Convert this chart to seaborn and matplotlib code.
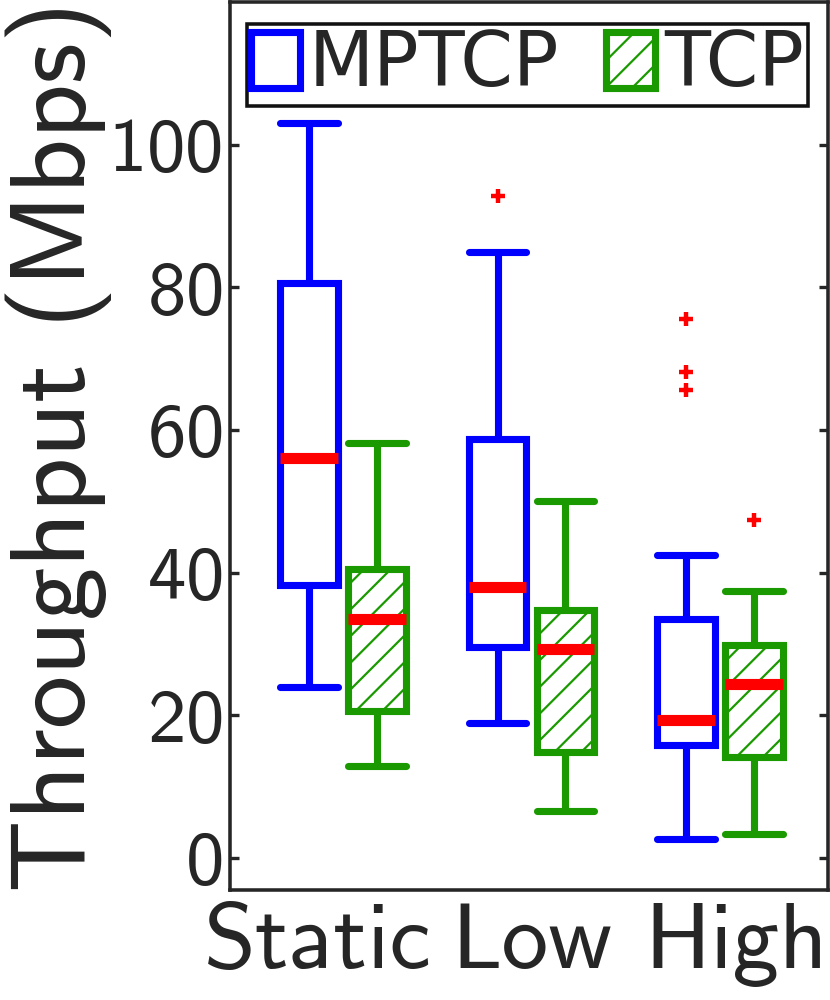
import numpy as np
import pandas as pd
import matplotlib
matplotlib.use("Agg")
import matplotlib.pyplot as plt
import matplotlib.transforms as mtransforms
import seaborn as sns

# categories
conditions = ["Static", "Low", "High"]
protocols = ["MPTCP", "TCP"]

# box stats: [low whisker, q1, median, q3, high whisker]
mptcp_static = [24.0, 38.2, 56.1, 80.6, 103.1]
mptcp_low = [18.9, 29.6, 38.0, 58.7, 85.0]
mptcp_high = [2.6, 15.8, 19.3, 33.5, 42.4]
tcp_static = [12.9, 20.6, 33.5, 40.5, 58.2]
tcp_low = [6.6, 14.9, 29.3, 34.8, 50.1]
tcp_high = [3.4, 14.2, 24.4, 29.9, 37.4]

# outliers (red +)
mptcp_static_out = []
mptcp_low_out = [92.8]
mptcp_high_out = [75.5, 68.1, 65.6]
tcp_static_out = []
tcp_low_out = []
tcp_high_out = [47.4]

yticks = [0, 20, 40, 60, 80, 100]

blue = "#0000ff"
green = "#1a9a00"
red = "#ff0000"


def samples(stats, outliers):
    # repeat the quartiles so the box stats come out as read
    low, q1, med, q3, high = stats
    return [low] + [q1] * 20 + [med] * 20 + [q3] * 20 + [high] + list(outliers)


rows = []
table = {
    ("MPTCP", "Static"): (mptcp_static, mptcp_static_out),
    ("MPTCP", "Low"): (mptcp_low, mptcp_low_out),
    ("MPTCP", "High"): (mptcp_high, mptcp_high_out),
    ("TCP", "Static"): (tcp_static, tcp_static_out),
    ("TCP", "Low"): (tcp_low, tcp_low_out),
    ("TCP", "High"): (tcp_high, tcp_high_out),
}
for (proto, cond), (stats, outs) in table.items():
    for v in samples(stats, outs):
        rows.append({"condition": cond, "protocol": proto, "throughput": v})
df = pd.DataFrame(rows)

sns.set_style("ticks", rc={
    "xtick.direction": "in", "ytick.direction": "in",
    "ytick.right": True, "axes.edgecolor": "#262626",
})
plt.rcParams["font.family"] = ["cmss10", "DejaVu Sans"]
plt.rcParams["axes.formatter.use_mathtext"] = True
plt.rcParams["axes.unicode_minus"] = False
plt.rcParams["hatch.linewidth"] = 1.0

fig = plt.figure(figsize=(830 / 160, 1000 / 160), dpi=160)
ax = fig.add_axes([0.277, 0.11, 0.72, 0.888])

width, gap = 0.72, 0.15
box_kw = dict(
    x="condition", y="throughput", hue="protocol",
    order=conditions, hue_order=protocols, dodge=True,
    width=width, gap=gap, whis=1.0, fill=True, linewidth=3.2,
    palette={"MPTCP": "white", "TCP": "white"}, legend=False,
    capwidths=width / 2 * (1 - gap),
    medianprops=dict(color=red, linewidth=5, solid_capstyle="butt"),
    flierprops=dict(marker="+", markeredgecolor=red, markersize=6,
                    markeredgewidth=2),
    ax=ax,
)

sns.boxplot(data=df[df["protocol"] == "MPTCP"], linecolor=blue, **box_kw)
n_mptcp = len(ax.patches)
sns.boxplot(data=df[df["protocol"] == "TCP"], linecolor=green, **box_kw)
for p in ax.patches[n_mptcp:]:
    p.set_hatch("//")

ax.set_xlim(-0.6, 2.57)
ax.set_ylim(-4.5, 120)
ax.set_yticks(yticks)
ax.set_xlabel("")
ax.set_ylabel("Throughput (Mbps)", fontsize=48, labelpad=-1.5)
ax.tick_params(axis="x", length=0, pad=6, labelsize=42)
ax.tick_params(axis="y", length=4, width=1.5, pad=3.5, labelsize=34.5)
for s in ax.spines.values():
    s.set_linewidth(1.6)
    s.set_visible(True)

# the category names sit a little off-centre in the original
label_shift = {"Static": -25, "High": 16}
for lab in ax.get_xticklabels():
    dx = label_shift.get(lab.get_text(), 0) / fig.dpi
    lab.set_transform(lab.get_transform()
                      + mtransforms.ScaledTranslation(dx, 0, fig.dpi_scale_trans))

leg = ax.legend(
    [ax.patches[0], ax.patches[n_mptcp]], protocols,
    loc="upper center", bbox_to_anchor=(0.498, 0.975), ncol=2,
    prop={"family": "DejaVu Sans", "size": 34},
    handlelength=0.65, handleheight=0.77, handletextpad=0.12,
    columnspacing=0.62, borderpad=0.05, borderaxespad=0,
    fancybox=False, framealpha=1, edgecolor="#111111",
)
leg.get_frame().set_linewidth(1.6)

fig.savefig("out.png", dpi=160)
